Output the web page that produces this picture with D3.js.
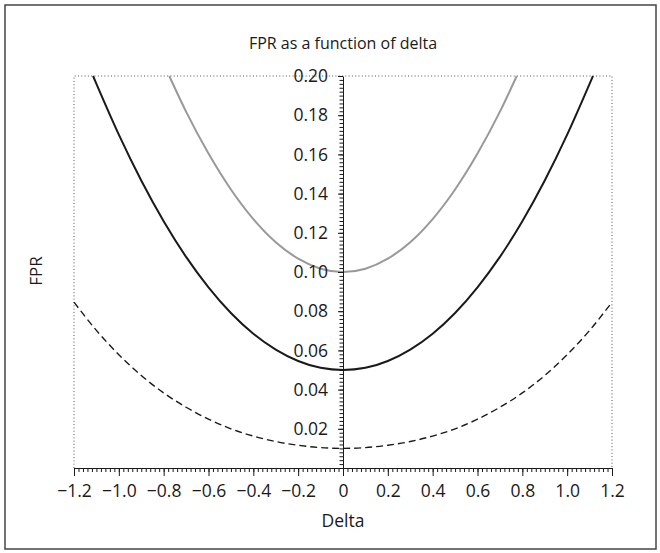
<!DOCTYPE html>
<html>
<head>
<meta charset="utf-8">
<script src="https://cdn.jsdelivr.net/npm/d3@7"></script>
<style>
  body { margin: 0; background: #fff; }
  text { font-family: "Open Sans", "Noto Sans", sans-serif; fill: #1a1a1a; }
</style>
</head>
<body>
<div id="chart"></div>
<script>
// chart defaults
const width = 660
const height = 553
const title = "FPR as a function of delta"

// data
const xTicks = [-1.2, -1.0, -0.8, -0.6, -0.4, -0.2, 0, 0.2, 0.4, 0.6, 0.8, 1.0, 1.2]
const yTicks = [0.02, 0.04, 0.06, 0.08, 0.10, 0.12, 0.14, 0.16, 0.18, 0.20]

// dashed curve (lowest)
const deltaDashed = [-1.2, -1.1, -1.0, -0.9, -0.8, -0.7, -0.6, -0.5, -0.4, -0.3, -0.2, -0.1, 0,
  0.1, 0.2, 0.3, 0.4, 0.5, 0.6, 0.7, 0.8, 0.9, 1.0, 1.1, 1.2]
const fprDashed = [0.0846, 0.0702, 0.0578, 0.0472, 0.0383, 0.0310, 0.0249, 0.0200, 0.0163, 0.0135, 0.0116, 0.0104, 0.0100,
  0.0104, 0.0116, 0.0135, 0.0163, 0.0200, 0.0249, 0.0310, 0.0383, 0.0472, 0.0578, 0.0702, 0.0846]

// black curve (middle)
const deltaBlack = [-1.115, -1.1, -1.0, -0.9, -0.8, -0.7, -0.6, -0.5, -0.4, -0.3, -0.2, -0.1, 0,
  0.1, 0.2, 0.3, 0.4, 0.5, 0.6, 0.7, 0.8, 0.9, 1.0, 1.1, 1.115]
const fprBlack = [0.2000, 0.1960, 0.1701, 0.1467, 0.1259, 0.1077, 0.0922, 0.0791, 0.0685, 0.0604, 0.0546, 0.0511, 0.0500,
  0.0511, 0.0546, 0.0604, 0.0685, 0.0791, 0.0922, 0.1077, 0.1259, 0.1467, 0.1701, 0.1960, 0.2000]

// gray curve (top)
const deltaGray = [-0.775, -0.7, -0.6, -0.5, -0.4, -0.3, -0.2, -0.1, 0,
  0.1, 0.2, 0.3, 0.4, 0.5, 0.6, 0.7, 0.775]
const fprGray = [0.2000, 0.1818, 0.1604, 0.1421, 0.1270, 0.1152, 0.1068, 0.1017, 0.1000,
  0.1017, 0.1068, 0.1152, 0.1270, 0.1421, 0.1604, 0.1818, 0.2000]

const chart = d3.select('#chart')
  .append('svg')
  .attr('width', width)
  .attr('height', height)

// outer frame
chart.append('rect')
  .attr('x', 5).attr('y', 5)
  .attr('width', 651).attr('height', 544)
  .attr('fill', 'none')
  .attr('stroke', '#444')
  .attr('stroke-width', 1.5)

const xScale = d3.scaleLinear().domain([-1.2, 1.2]).range([74, 612])
const yScale = d3.scaleLinear().domain([0, 0.2]).range([468, 76])

// dotted box round the plot
chart.append('path')
  .attr('d', 'M' + xScale(-1.2) + ',' + yScale(0) + 'V' + yScale(0.2) + 'H' + xScale(1.2) + 'V' + yScale(0))
  .attr('fill', 'none')
  .attr('stroke', '#555')
  .attr('stroke-width', 1)
  .attr('stroke-dasharray', '1,2.3')

// curves
const line = d3.line()
  .x(d => xScale(d[0]))
  .y(d => yScale(d[1]))
  .curve(d3.curveMonotoneX)

const drawCurve = function (xs, ys, color, w, dash) {
  chart.append('path')
    .datum(xs.map((d, i) => [d, ys[i]]))
    .attr('d', line)
    .attr('fill', 'none')
    .attr('stroke', color)
    .attr('stroke-width', w)
    .attr('stroke-dasharray', dash)
}

drawCurve(deltaDashed, fprDashed, '#1a1a1a', 1.4, '7,4')
drawCurve(deltaGray, fprGray, '#999', 2, null)
drawCurve(deltaBlack, fprBlack, '#1a1a1a', 2, null)

const fmtX = d => d === 0 ? '0' : d3.format('.1f')(d).replace('-', '\u2212')

// x axis: minor then major
chart.append('g')
  .attr('transform', 'translate(0,' + yScale(0) + ')')
  .call(d3.axisBottom(xScale).tickValues(d3.range(-1.2, 1.2001, 0.02)).tickSize(4).tickFormat(''))
  .call(g => g.select('.domain').remove())

const xAxis = chart.append('g')
  .attr('id', 'x-axis')
  .attr('transform', 'translate(0,' + yScale(0) + ')')
  .call(d3.axisBottom(xScale).tickValues(xTicks).tickSize(8).tickSizeOuter(0).tickPadding(9).tickFormat(fmtX))

// y axis at delta = 0
chart.append('g')
  .attr('transform', 'translate(' + xScale(0) + ',0)')
  .call(d3.axisLeft(yScale).tickValues(d3.range(0.002, 0.2001, 0.002)).tickSize(3.5).tickFormat(''))
  .call(g => g.select('.domain').remove())

const yAxis = chart.append('g')
  .attr('id', 'y-axis')
  .attr('transform', 'translate(' + xScale(0) + ',0)')
  .call(d3.axisLeft(yScale).tickValues(yTicks).tickSize(5).tickSizeOuter(0).tickPadding(10).tickFormat(d3.format('.2f')))

chart.selectAll('.tick line, .domain').attr('stroke', '#1a1a1a')
chart.selectAll('.tick text')
  .attr('fill', '#1a1a1a')
  .attr('font-family', '"Open Sans", sans-serif')
  .attr('font-size', 17.5)

// titles
chart.append('text')
  .attr('x', 343).attr('y', 49)
  .attr('text-anchor', 'middle')
  .attr('font-size', 16)
  .text(title)

chart.append('text')
  .attr('x', 343).attr('y', 527)
  .attr('text-anchor', 'middle')
  .attr('font-size', 17.5)
  .text('Delta')

chart.append('text')
  .attr('transform', 'translate(42,271) rotate(-90)')
  .attr('text-anchor', 'middle')
  .attr('font-size', 17)
  .attr('fill', '#1a1a1a')
  .text('FPR')
</script>
</body>
</html>
